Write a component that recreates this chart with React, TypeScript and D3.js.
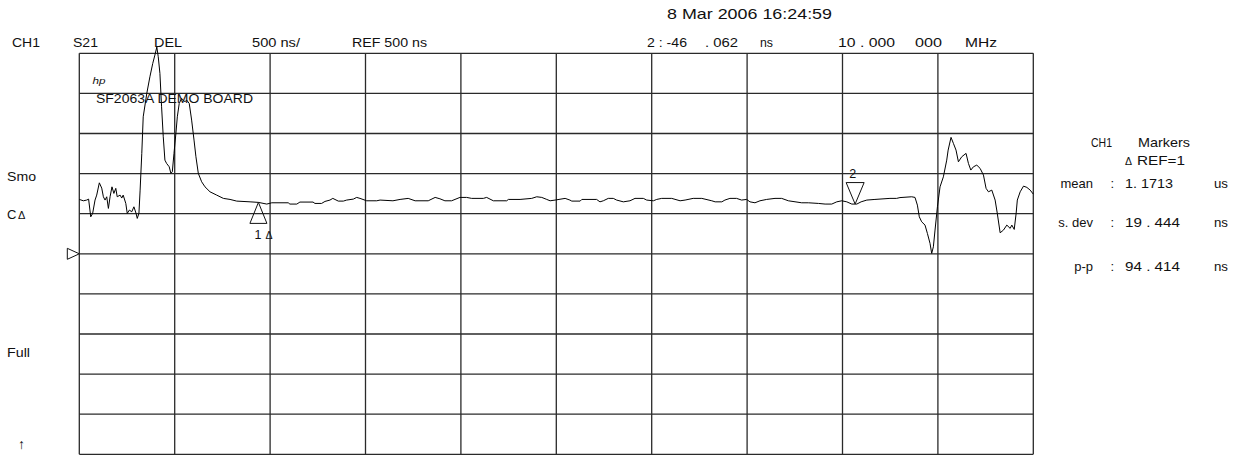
import * as d3 from 'd3';

// trace: measurement point index (401-point sweep) and group delay in ns
const points = [
  0, 1.7, 3.1, 3.9, 4.8, 5.6, 6.6, 7.3, 8.4, 9.4, 10.1, 10.8, 11.5, 12.2, 12.9, 13.7, 14.5, 15.3, 15.9, 17.1,
  17.8, 18.4, 19.5, 20.1, 21.0, 22.0, 22.9, 23.8, 24.3, 25.0, 25.5, 26.2, 26.8, 28.3, 29.6, 30.8, 31.7, 32.5, 33.1, 33.8,
  34.5, 35.2, 35.9, 36.6, 37.7, 38.4, 39.0, 39.7, 40.5, 41.1, 41.9, 42.9, 44.3, 45.0, 46.1, 47.1, 48.1, 48.9, 49.9, 51.3,
  52.7, 54.8, 57.6, 60.4, 63.2, 66.0, 71.6, 75.1, 78.6, 80.7, 87.6, 88.3, 91.2, 92.5, 98.0, 98.8, 101.6, 103.0, 105.1, 106.3,
  108.6, 110.7, 112.1, 114.9, 116.3, 117.7, 120.5, 124.7, 126.1, 131.5, 134.5, 137.9, 140.8, 146.3, 149.2, 151.2, 153.3, 156.1, 159.6, 162.4,
  164.5, 169.4, 170.8, 173.6, 179.2, 179.9, 184.8, 189.7, 191.8, 193.9, 196.0, 197.4, 199.5, 203.7, 205.7, 206.5, 210.0, 210.7, 216.9, 218.3,
  219.7, 221.8, 223.9, 225.3, 228.1, 230.9, 233.0, 236.5, 237.9, 240.7, 242.1, 244.2, 248.4, 251.9, 254.0, 257.4, 261.0, 265.2, 266.6, 269.4,
  270.7, 272.8, 275.6, 277.7, 279.8, 281.2, 283.3, 285.4, 288.2, 291.7, 294.5, 297.3, 302.9, 305.7, 309.9, 312.7, 315.5, 317.6, 319.7, 321.8,
  323.9, 326.0, 327.8, 330.2, 333.6, 339.9, 342.7, 344.1, 349.0, 350.4, 351.4, 352.2, 353.2, 354.6, 355.6, 356.7, 357.4, 358.1, 358.8, 359.8,
  360.9, 362.3, 363.7, 364.3, 365.5, 366.5, 367.6, 368.6, 370.0, 371.8, 372.8, 373.8, 374.9, 376.3, 377.7, 379.1, 380.2, 381.2, 382.6, 384.0,
  384.9, 386.1, 387.5, 388.9, 390.3, 391.0, 392.0, 392.8, 393.3, 394.5, 395.9, 397.3, 398.7, 400,
];
const delayNs = [
  1178, 1161, 1170, 1182, 961, 1004, 1170, 1232, 1385, 1319, 1211, 1170, 1211, 1066, 1211, 1335, 1253, 1316, 1211, 1232,
  1195, 1232, 1128, 1004, 1045, 1024, 1086, 1004, 941, 1004, 1294, 1752, 2208, 2500, 2707, 2874, 2978, 3078, 2957, 2750,
  2333, 1959, 1668, 1627, 1585, 1503, 1523, 1752, 2001, 2208, 2375, 2438, 2395, 2417, 2375, 2167, 1918, 1710, 1503, 1398,
  1335, 1273, 1232, 1191, 1178, 1157, 1148, 1141, 1120, 1136, 1136, 1120, 1120, 1145, 1145, 1128, 1128, 1153, 1170, 1191,
  1157, 1157, 1170, 1182, 1203, 1191, 1161, 1161, 1170, 1161, 1178, 1191, 1161, 1161, 1203, 1186, 1161, 1161, 1203, 1203,
  1191, 1191, 1203, 1161, 1161, 1178, 1178, 1191, 1211, 1203, 1178, 1161, 1170, 1191, 1170, 1157, 1157, 1178, 1178, 1148,
  1161, 1191, 1191, 1170, 1148, 1161, 1191, 1191, 1170, 1161, 1178, 1191, 1191, 1161, 1170, 1191, 1191, 1161, 1148, 1148,
  1170, 1191, 1191, 1170, 1178, 1148, 1136, 1161, 1178, 1191, 1191, 1161, 1136, 1136, 1128, 1120, 1120, 1148, 1161, 1148,
  1120, 1120, 1148, 1170, 1178, 1191, 1191, 1201, 1211, 1203, 1107, 961, 899, 858, 754, 630, 505, 587, 796, 1086,
  1335, 1460, 1668, 1793, 1952, 1877, 1793, 1647, 1710, 1752, 1627, 1544, 1585, 1606, 1565, 1481, 1316, 1273, 1294, 1170,
  1004, 762, 796, 858, 817, 858, 804, 1004, 1170, 1273, 1344, 1328, 1294, 1244,
];

// markers: point index and value
const markerPoints = [75.1, 325.3];
const markerValues = [1141, 1120];
const markerNames = ['1', '2'];

const REF_NS = 500;
const SCALE_NS = 500;
const DIVS = 10;

const headerLeft = ['CH1', 'S21', 'DEL', '500 ns/', 'REF 500 ns'];
const headerLeftX = [12, 73, 154, 252, 352];
const headerLeftW = [28, 25, 28, 48, 75];
const headerRight = ['2 : -46', '. 062', 'ns', '10 . 000', '000', 'MHz'];
const headerRightX = [647, 705, 760, 838, 915, 965];
const headerRightW = [40, 33, 13, 57, 27, 32];

const statNames = ['mean', 's. dev', 'p-p'];
const statVals = ['1. 1713', '19 . 444', '94 . 414'];
const statUnits = ['us', 'ns', 'ns'];

const W = 1233;
const H = 456;
const FONT = "'Liberation Sans', Arial, sans-serif";
const INK = '#111';

export default function App() {
  const x = d3.scaleLinear().domain([0, 400]).range([79.3, 1033.3]);
  const y = d3
    .scaleLinear()
    .domain([REF_NS - (DIVS / 2) * SCALE_NS, REF_NS + (DIVS / 2) * SCALE_NS])
    .range([454.3, 53.3]);

  const line = d3
    .line<number>()
    .x((_, i) => x(points[i]))
    .y(d => y(d));

  const xTicks = d3.range(0, 401, 40);
  const yTicks = d3.range(-2000, 3001, SCALE_NS);
  const refY = y(REF_NS);

  const m1x = x(markerPoints[0]);
  const m1y = y(markerValues[0]);
  const m2x = x(markerPoints[1]);
  const m2y = y(markerValues[1]);

  const txt = (s: string, tx: number, ty: number, w?: number, size = 13) => (
    <text
      key={s + tx + ty}
      x={tx}
      y={ty}
      fontSize={size}
      textLength={w}
      lengthAdjust={w ? 'spacingAndGlyphs' : undefined}
      fill={INK}
    >
      {s}
    </text>
  );

  const statY = [188.3, 226.7, 271];

  return (
    <>
      <style>{'body{margin:0;background:#fff}'}</style>
      <svg width={W} height={H} style={{ display: 'block', fontFamily: FONT }}>
        <rect width={W} height={H} fill="#fff" />
        <g stroke="#2a2a2a" strokeWidth={1.3}>
          {xTicks.map(t => (
            <line key={'v' + t} x1={x(t)} x2={x(t)} y1={y(3000)} y2={y(-2000)} />
          ))}
          {yTicks.map(t => (
            <line key={'h' + t} x1={x(0)} x2={x(400)} y1={y(t)} y2={y(t)} />
          ))}
        </g>

        {/* reference position marker */}
        <path
          d={`M${x(0) - 12},${refY - 5.5} L${x(0)},${refY} L${x(0) - 12},${refY + 5.5} Z`}
          fill="#fff"
          stroke={INK}
          strokeWidth={1}
        />

        <path d={line(delayNs) ?? ''} fill="none" stroke="#000" strokeWidth={1} strokeLinejoin="round" />

        {/* marker 1 (delta ref) */}
        <path
          d={`M${m1x},${m1y} L${m1x + 8.5},${m1y + 21} L${m1x - 8.5},${m1y + 21} Z`}
          fill="none"
          stroke={INK}
          strokeWidth={1}
        />
        {txt(markerNames[0], m1x - 4, m1y + 36.5, undefined, 12.5)}
        {txt('Δ', m1x + 7, m1y + 37, undefined, 10.5)}

        {/* marker 2 */}
        <path
          d={`M${m2x},${m2y} L${m2x + 9},${m2y - 21.5} L${m2x - 9},${m2y - 21.5} Z`}
          fill="none"
          stroke={INK}
          strokeWidth={1}
        />
        {txt(markerNames[1], m2x - 6, m2y - 26, undefined, 12.5)}

        {/* header */}
        {headerLeft.map((s, i) => txt(s, headerLeftX[i], 46.5, headerLeftW[i]))}
        {headerRight.map((s, i) => txt(s, headerRightX[i], 46.5, headerRightW[i]))}
        {txt('8 Mar 2006   16:24:59', 667, 19, 165, 15)}

        {/* title */}
        <text x={92.5} y={84} fontSize={9} fontStyle="italic" fill={INK} textLength={13} lengthAdjust="spacingAndGlyphs">
          hp
        </text>
        {txt('SF2063A DEMO BOARD', 96, 103.3, 157, 13)}

        {/* left annotations */}
        {txt('Smo', 7, 181, 29)}
        {txt('C', 7, 219, undefined, 13)}
        {txt('Δ', 18, 219, undefined, 11)}
        {txt('Full', 7, 357, 23)}
        {txt('↑', 18, 449, undefined, 14)}

        {/* marker readout */}
        {txt('CH1', 1091, 146.7, 21)}
        {txt('Markers', 1138, 146.7, 52)}
        {txt('Δ', 1125, 165, undefined, 10.5)}
        {txt('REF=1', 1137, 165, 48)}
        {statNames.map((s, i) => (
          <g key={s}>
            <text x={1093} y={statY[i]} fontSize={13} textAnchor="end" fill={INK}>
              {s}
            </text>
            {txt(':', 1110.5, statY[i])}
            {txt(statVals[i], 1125, statY[i], [48, 55, 55][i])}
            {txt(statUnits[i], 1214, statY[i], 14)}
          </g>
        ))}
      </svg>
    </>
  );
}
